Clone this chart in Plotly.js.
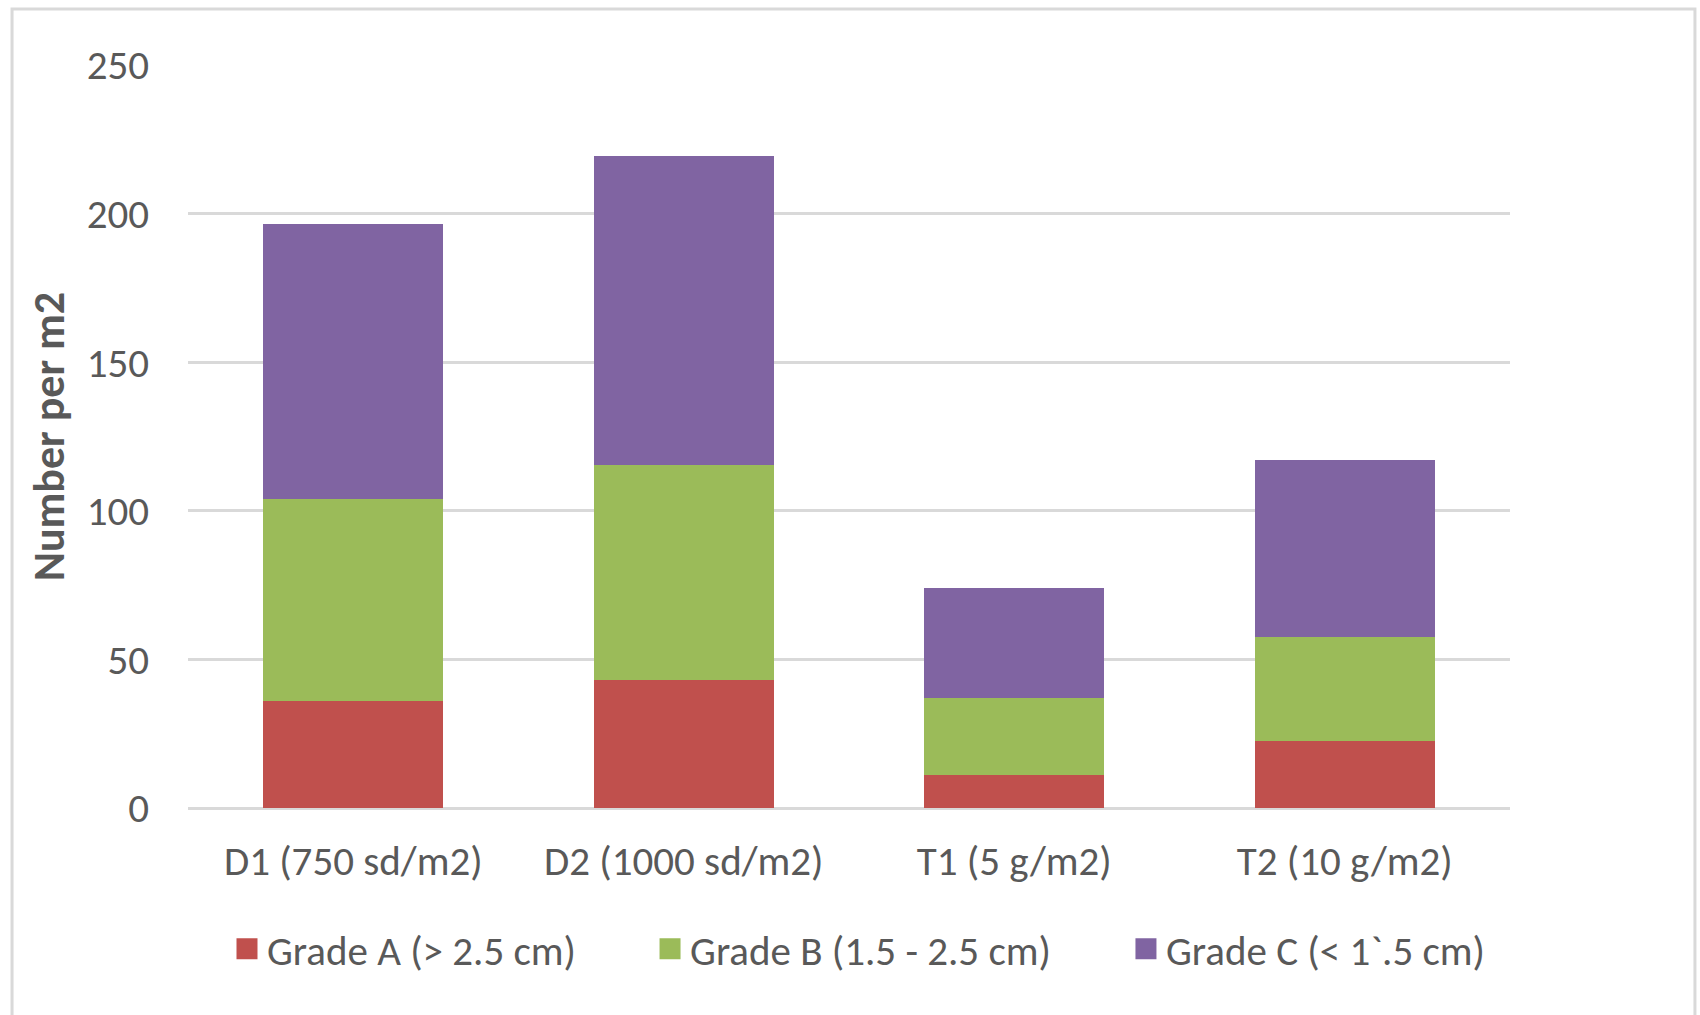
<!DOCTYPE html>
<html>
<head>
<meta charset="utf-8">
<script src="https://cdn.plot.ly/plotly-3.0.1.min.js"></script>
<style>
  html, body { margin: 0; padding: 0; background: #ffffff; }
  #chart { width: 1700px; height: 1015px; }
</style>
</head>
<body>
<div id="chart"></div>
<script>
// Treatments (sowing density / seed rate)
const treatments = ["D1 (750 sd/m2)", "D2 (1000 sd/m2)", "T1 (5 g/m2)", "T2 (10 g/m2)"];

// Grade names
const gradeNames = ["Grade A (> 2.5 cm)", "Grade B (1.5 - 2.5 cm)", "Grade C (< 1`.5 cm)"];

// Number per m2 for each grade, stacked
const gradeA = [36, 43, 11, 22.5];
const gradeB = [68, 72.5, 26, 35];
const gradeC = [92.5, 104, 37, 59.5];

// Y axis ticks
const yTicks = [0, 50, 100, 150, 200, 250];

const FONT = "Carlito, Calibri, Lato, 'Open Sans', sans-serif";
const TEXT = "#595959";
const GRID = "#d9d9d9";
const colors = ["#c0504d", "#9bbb59", "#8064a2"];
const series = [gradeA, gradeB, gradeC];
const legendKeys = ["legend", "legend2", "legend3"];

const traces = series.map((vals, i) => ({
  type: "bar",
  name: gradeNames[i],
  x: treatments,
  y: vals,
  marker: { color: colors[i] },
  legend: legendKeys[i],
  showlegend: true,
  hoverinfo: "x+y+name"
}));

// one single-entry legend per grade, laid out in a row under the axis
function legendAt(xPos) {
  return {
    visible: true,
    orientation: "h",
    x: xPos,
    xanchor: "left",
    y: -0.19,
    yanchor: "middle",
    borderwidth: 0,
    font: { family: FONT, size: 41, color: TEXT },
    bgcolor: "rgba(0,0,0,0)"
  };
}

const layout = {
  width: 1700,
  height: 1015,
  margin: { l: 188, r: 190, t: 65, b: 207 },
  paper_bgcolor: "#ffffff",
  plot_bgcolor: "#ffffff",
  barmode: "stack",
  bargap: 0.455,
  showlegend: true,
  font: { family: FONT, color: TEXT, size: 41 },
  xaxis: {
    type: "category",
    showgrid: false,
    showline: false,
    zeroline: false,
    ticks: "",
    ticklabelstandoff: 25,
    tickfont: { family: FONT, size: 41, color: TEXT }
  },
  yaxis: {
    range: [0, 250],
    tickvals: yTicks,
    ticktext: yTicks.map(String),
    showgrid: true,
    gridcolor: GRID,
    gridwidth: 3,
    zeroline: true,
    zerolinecolor: GRID,
    zerolinewidth: 3,
    showline: false,
    ticks: "",
    ticklabelstandoff: 38,
    tickfont: { family: FONT, size: 41, color: TEXT },
    title: {
      text: "Number per m2",
      standoff: 8,
      font: { family: FONT, size: 44, color: TEXT, weight: 600 }
    }
  },
  legend: legendAt(0.0295),
  legend2: legendAt(0.3495),
  legend3: legendAt(0.7095),
  shapes: [
    {
      type: "rect",
      xref: "paper", yref: "paper",
      x0: -0.1331, x1: 1.1399,
      y0: -0.32, y1: 1.0754,
      line: { color: GRID, width: 3 },
      fillcolor: "rgba(0,0,0,0)",
      layer: "below"
    }
  ]
};

// larger square legend swatches (about 21px)
function growSwatches(gd) {
  gd.querySelectorAll(".legendpoints path").forEach(p => {
    p.setAttribute("d", "M10.5,10.5H-10.5V-10.5H10.5Z");
  });
}

Plotly.newPlot("chart", traces, layout, { displayModeBar: false, responsive: false })
  .then(gd => {
    growSwatches(gd);
    gd.on("plotly_afterplot", () => growSwatches(gd));
  });
</script>
</body>
</html>
